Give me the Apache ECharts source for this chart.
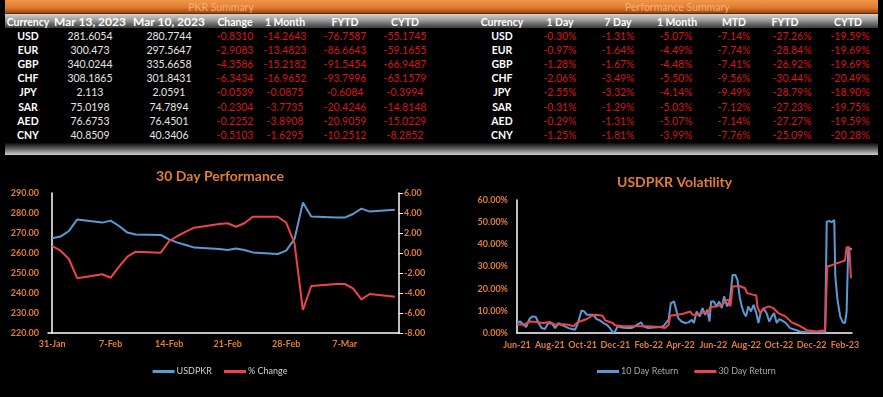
<!DOCTYPE html>
<html>
<head>
<meta charset="utf-8">
<script src="https://cdn.jsdelivr.net/npm/echarts@6/dist/echarts.min.js"></script>
<style>
  html, body { margin: 0; padding: 0; background: #000; }
  #page { position: relative; width: 883px; height: 397px; background: #000; overflow: hidden; font-family: Lato, "Open Sans", sans-serif; }
  .bar-top { position: absolute; left: 5px; top: 0; width: 873px; height: 14px;
    background: linear-gradient(to bottom, #f0974c 0%, #e07a2c 55%, #a04c12 90%, #3a1a05 100%); }
  .bar-head { position: absolute; left: 5px; top: 14px; width: 873px; height: 14px;
    background: linear-gradient(to bottom, #d2d2d2 0%, #9a9a9a 45%, #5a5a5a 80%, #3a3a3a 100%); }
  .bar-foot { position: absolute; left: 5px; top: 143px; width: 873px; height: 12px;
    background: linear-gradient(to bottom, #0a0a0a 0%, #5a5a5a 45%, #d0d0d0 100%); }
  .cell { position: absolute; width: 100px; height: 14px; line-height: 14px; text-align: center; white-space: nowrap;
    font-family: Lato, sans-serif; font-size: 10.5px; }
  .cap { color: #f6b07a; }
  .hd { color: #fff; font-weight: bold; }
  .hd-big { color: #fff; font-weight: bold; font-size: 12px; }
  .cur { color: #fff; font-weight: bold; }
  .num { color: #e6e6e6; }
  .neg { color: #d81414; }
  #perf { position: absolute; left: 0; top: 155px; width: 440px; height: 242px; }
  #vol { position: absolute; left: 440px; top: 155px; width: 443px; height: 242px; }
</style>
</head>
<body>
<div id="page">
  <div class="bar-top"></div>
  <div class="bar-head"></div>
  <div class="bar-foot"></div>
  <div id="tables"></div>
  <div id="perf"></div>
  <div id="vol"></div>
</div>
<script>
// ---- PKR Summary table ----
var currencies = ['USD', 'EUR', 'GBP', 'CHF', 'JPY', 'SAR', 'AED', 'CNY'];
var pkrHeaders = ['Currency', 'Mar 13, 2023', 'Mar 10, 2023', 'Change', '1 Month', 'FYTD', 'CYTD'];
var rateMar13 = ['281.6054', '300.473', '340.0244', '308.1865', '2.113', '75.0198', '76.6753', '40.8509'];
var rateMar10 = ['280.7744', '297.5647', '335.6658', '301.8431', '2.0591', '74.7894', '76.4501', '40.3406'];
var pkrChange = ['-0.8310', '-2.9083', '-4.3586', '-6.3434', '-0.0539', '-0.2304', '-0.2252', '-0.5103'];
var pkr1Month = ['-14.2643', '-13.4823', '-15.2182', '-16.9652', '-0.0875', '-3.7735', '-3.8908', '-1.6295'];
var pkrFytd = ['-76.7587', '-86.6643', '-91.5454', '-93.7996', '-0.6084', '-20.4246', '-20.9059', '-10.2512'];
var pkrCytd = ['-55.1745', '-59.1655', '-66.9487', '-63.1579', '-0.3994', '-14.8148', '-15.0229', '-8.2852'];

// ---- Performance Summary table ----
var perfHeaders = ['Currency', '1 Day', '7 Day', '1 Month', 'MTD', 'FYTD', 'CYTD'];
var perf1Day = ['-0.30%', '-0.97%', '-1.28%', '-2.06%', '-2.55%', '-0.31%', '-0.29%', '-1.25%'];
var perf7Day = ['-1.31%', '-1.64%', '-1.67%', '-3.49%', '-3.32%', '-1.29%', '-1.31%', '-1.81%'];
var perf1Month = ['-5.07%', '-4.49%', '-4.48%', '-5.50%', '-4.14%', '-5.03%', '-5.07%', '-3.99%'];
var perfMtd = ['-7.14%', '-7.74%', '-7.41%', '-9.56%', '-9.49%', '-7.12%', '-7.14%', '-7.76%'];
var perfFytd = ['-27.26%', '-28.84%', '-26.92%', '-30.44%', '-28.79%', '-27.23%', '-27.27%', '-25.09%'];
var perfCytd = ['-19.59%', '-19.69%', '-19.69%', '-20.49%', '-18.90%', '-19.75%', '-19.59%', '-20.28%'];

// ---- 30 Day Performance ----
var perfDates = ['2023-01-31', '2023-02-01', '2023-02-02', '2023-02-03', '2023-02-06', '2023-02-07', '2023-02-08',
  '2023-02-09', '2023-02-10', '2023-02-13', '2023-02-14', '2023-02-15', '2023-02-16', '2023-02-17', '2023-02-20',
  '2023-02-21', '2023-02-22', '2023-02-23', '2023-02-24', '2023-02-27', '2023-02-28', '2023-03-01', '2023-03-02',
  '2023-03-03', '2023-03-06', '2023-03-07', '2023-03-08', '2023-03-09', '2023-03-10', '2023-03-13'];
var usdpkr = [267.4, 268.2, 271.0, 276.8, 275.2, 276.2, 273.5, 270.2, 269.3, 269.0, 266.8, 265.2, 264.0, 262.7, 262.0,
  261.5, 262.2, 261.5, 260.3, 259.5, 261.2, 267.0, 285.2, 278.2, 277.7, 277.7, 279.5, 282.2, 280.7, 281.6];
var pctChange = [0.7, 0.23, -0.6, -2.53, -2.13, -2.47, -1.37, -0.37, 0.13, 0.03, 1.2, 1.7, 2.13, 2.53, 2.9,
  2.97, 2.63, 2.97, 3.63, 3.63, 3.03, 0.97, -5.7, -3.3, -3.1, -3.1, -3.53, -4.63, -4.1, -4.37];
var perfTickDates = ['2023-01-31', '2023-02-07', '2023-02-14', '2023-02-21', '2023-02-28', '2023-03-07'];
var perfTickLabels = ['31-Jan', '7-Feb', '14-Feb', '21-Feb', '28-Feb', '7-Mar'];

// ---- USDPKR Volatility (days counted from 1 Jun 2021, values in %) ----
var volDay10 = [0, 6, 12, 17, 23, 29, 35, 40, 46, 52, 58, 65, 71, 77, 83, 89, 96, 102, 108, 112, 117, 120, 125, 130,
  136, 142, 148, 154, 161, 167, 173, 178, 182, 187, 195, 204, 213, 223, 231, 235, 244, 254, 266, 272, 282, 286, 292,
  296, 300, 306, 313, 319, 325, 329, 334, 340, 345, 350, 354, 358, 361, 366, 371, 376, 381, 385, 391, 396, 401, 406,
  410, 414, 418, 422, 426, 430, 435, 440, 445, 449, 453, 458, 464, 469, 474, 478, 483, 488, 494, 500, 508, 517, 526,
  539, 557, 573, 576, 581, 585, 590, 592, 596, 601, 606, 610, 613, 616, 619, 623];
var vol10 = [4.8, 5.2, 3.7, 2.7, 6.3, 7.5, 7.2, 4.5, 2.2, 1.8, 4.5, 4.2, 2.2, 4.5, 3.7, 3.0, 2.2, 1.8, 1.5, 3.7, 7.5,
  10.2, 9.7, 8.2, 8.2, 8.2, 6.3, 5.7, 4.5, 3.7, 2.2, 0.3, 0.5, 3.0, 2.5, 2.2, 2.2, 3.7, 4.8, 3.0, 2.2, 2.5, 2.7, 3.0,
  6.0, 13.5, 14.2, 10.5, 6.7, 5.2, 4.5, 4.8, 6.0, 4.5, 9.7, 7.5, 11.2, 8.2, 10.5, 5.2, 14.2, 14.2, 12.0, 14.2, 11.2,
  16.5, 12.0, 15.0, 26.2, 26.2, 24.0, 16.5, 12.0, 9.0, 7.5, 12.0, 9.7, 12.7, 9.0, 4.5, 9.0, 11.2, 9.0, 5.2, 7.5, 9.0,
  4.5, 6.3, 5.5, 4.5, 2.2, 1.5, 0.7, 0.3, 0.3, 0.3, 50.2, 50.5, 50.0, 51.0, 25.5, 15.0, 7.5, 4.8, 4.5, 9.7, 38.2, 38.2,
  37.8];
var volDay30 = [0, 12, 24, 37, 49, 61, 71, 86, 96, 105, 111, 117, 120, 130, 139, 148, 159, 164, 170, 178, 182, 198,
  213, 216, 229, 244, 266, 275, 282, 285, 297, 309, 322, 327, 334, 347, 356, 359, 371, 381, 385, 389, 393, 397, 401,
  414, 424, 428, 440, 445, 447, 452, 458, 468, 477, 486, 499, 511, 523, 533, 539, 557, 573, 577, 582, 595, 604, 610,
  613, 618, 621];
var vol30 = [4.0, 3.7, 5.2, 5.0, 4.5, 5.0, 3.7, 4.0, 3.7, 3.0, 4.5, 5.2, 6.0, 6.3, 7.8, 8.2, 7.8, 5.7, 5.2, 4.5, 3.5,
  3.0, 3.0, 2.2, 3.0, 3.0, 2.7, 2.2, 3.7, 7.8, 8.2, 8.7, 9.7, 8.2, 8.2, 9.3, 9.0, 11.7, 12.0, 12.7, 13.5, 14.7, 15.0,
  12.0, 21.0, 21.2, 20.2, 18.0, 17.2, 17.0, 12.0, 9.0, 11.0, 12.0, 11.2, 9.0, 7.5, 4.8, 3.5, 2.2, 1.2, 0.7, 1.2, 30.0,
  30.3, 31.5, 32.2, 32.7, 38.7, 38.7, 24.7];
var volTickDates = ['2021-06-01', '2021-08-01', '2021-10-01', '2021-12-01', '2022-02-01', '2022-04-01', '2022-06-01',
  '2022-08-01', '2022-10-01', '2022-12-01', '2023-02-01'];
var volTickLabels = ['Jun-21', 'Aug-21', 'Oct-21', 'Dec-21', 'Feb-22', 'Apr-22', 'Jun-22', 'Aug-22', 'Oct-22', 'Dec-22', 'Feb-23'];

function dayOf(s, base) {
  return Math.round((Date.parse(s) - Date.parse(base)) / 864e5);
}

// tables
var tables = document.getElementById('tables');
function cell(text, cls, cx, cy) {
  var d = document.createElement('div');
  d.className = 'cell ' + cls;
  d.style.left = (cx - 50) + 'px';
  d.style.top = (cy - 7) + 'px';
  d.textContent = text;
  tables.appendChild(d);
}
cell('PKR Summary', 'cap', 221, 7);
cell('Performance Summary', 'cap', 675, 7);

var pkrHeadX = [28, 90, 169, 235, 285, 345, 405];
var perfHeadX = [502, 560, 618, 677, 734, 785, 848];
var perfValX = [502, 560, 618, 676, 734, 792, 850];
pkrHeaders.forEach(function (h, i) { cell(h, (i == 1 || i == 2) ? 'hd-big' : 'hd', pkrHeadX[i], 21.5); });
perfHeaders.forEach(function (h, i) { cell(h, 'hd', perfHeadX[i], 21.5); });

var pkrCols = [rateMar13, rateMar10, pkrChange, pkr1Month, pkrFytd, pkrCytd];
var perfCols = [perf1Day, perf7Day, perf1Month, perfMtd, perfFytd, perfCytd];
for (var r = 0; r < currencies.length; r++) {
  var y = 36 + r * 14.1;
  cell(currencies[r], 'cur', pkrHeadX[0], y);
  cell(currencies[r], 'cur', perfValX[0], y);
  for (var c = 0; c < pkrCols.length; c++) {
    cell(pkrCols[c][r], c < 2 ? 'num' : 'neg', pkrHeadX[c + 1], y);
  }
  for (var c = 0; c < perfCols.length; c++) {
    cell(perfCols[c][r], 'neg', perfValX[c + 1], y);
  }
}

var orange = '#e27d34';
var labelFont = { color: orange, fontSize: 9, fontWeight: 'bold', fontFamily: 'Lato' };

// 30 Day Performance
var perfStart = perfDates[0];
var perfX = perfDates.map(function (d) { return dayOf(d, perfStart); });
var perfTickX = perfTickDates.map(function (d) { return dayOf(d, perfStart); });

var perfChart = echarts.init(document.getElementById('perf'));
perfChart.setOption({
  animation: false,
  backgroundColor: '#000',
  title: {
    text: '30 Day Performance',
    left: 'center',
    top: 9,
    textStyle: { color: orange, fontSize: 14, fontWeight: 'bold', fontFamily: 'Lato' }
  },
  legend: {
    top: 207,
    left: 'center',
    icon: 'rect',
    itemWidth: 22,
    itemHeight: 3,
    itemGap: 12,
    textStyle: { color: '#d0d0d0', fontSize: 9, fontFamily: 'Lato', padding: [0, 0, 0, -3] },
    data: ['USDPKR', '% Change']
  },
  grid: { left: 48, right: 41, top: 38, bottom: 64 },
  xAxis: {
    type: 'value',
    min: -0.5,
    max: 41.5,
    axisLine: { show: true, onZero: false, lineStyle: { color: '#fff', width: 1.5 } },
    axisTick: { show: false },
    splitLine: { show: false },
    axisLabel: Object.assign({
      margin: 7,
      customValues: perfTickX,
      formatter: function (v) { return perfTickLabels[perfTickX.indexOf(v)]; }
    }, labelFont)
  },
  yAxis: [{
    type: 'value',
    min: 220,
    max: 290,
    interval: 10,
    axisLine: { show: true, lineStyle: { color: '#fff', width: 1.5 } },
    axisTick: { show: false },
    splitLine: { show: false },
    axisLabel: Object.assign({ margin: 9, formatter: function (v) { return v.toFixed(2); } }, labelFont)
  }, {
    type: 'value',
    position: 'right',
    min: -8,
    max: 6,
    interval: 2,
    axisLine: { show: true, lineStyle: { color: '#fff', width: 1.5 } },
    axisTick: { show: true, length: 4, lineStyle: { color: '#fff' } },
    splitLine: { show: false },
    axisLabel: Object.assign({ margin: 5, formatter: function (v) { return v.toFixed(2); } }, labelFont)
  }],
  series: [{
    name: 'USDPKR',
    type: 'line',
    symbol: 'none',
    yAxisIndex: 0,
    lineStyle: { color: '#5b9bd5', width: 2 },
    itemStyle: { color: '#5b9bd5' },
    data: perfX.map(function (x, i) { return [x, usdpkr[i]]; })
  }, {
    name: '% Change',
    type: 'line',
    symbol: 'none',
    yAxisIndex: 1,
    lineStyle: { color: '#f0434a', width: 2 },
    itemStyle: { color: '#f0434a' },
    data: perfX.map(function (x, i) { return [x, pctChange[i]]; })
  }]
});

// USDPKR Volatility
var volStart = volTickDates[0];
var volTickX = volTickDates.map(function (d) { return dayOf(d, volStart); });

var volChart = echarts.init(document.getElementById('vol'));
volChart.setOption({
  animation: false,
  backgroundColor: '#000',
  title: {
    text: 'USDPKR Volatility',
    left: 172,
    top: 15,
    textStyle: { color: orange, fontSize: 14, fontWeight: 'bold', fontFamily: 'Lato' }
  },
  legend: {
    top: 207,
    left: 152,
    icon: 'rect',
    itemWidth: 22,
    itemHeight: 3,
    itemGap: 16,
    textStyle: { color: '#a6a6a6', fontSize: 9, fontFamily: 'Lato', padding: [0, 0, 0, -3] },
    data: ['10 Day Return', '30 Day Return']
  },
  grid: { left: 77, right: 31, top: 45, bottom: 64 },
  xAxis: {
    type: 'value',
    min: 0,
    max: 623,
    axisLine: { show: true, onZero: false, lineStyle: { color: '#fff', width: 1.5 } },
    axisTick: { show: false },
    splitLine: { show: false },
    axisLabel: Object.assign({
      margin: 8,
      customValues: volTickX,
      formatter: function (v) { return volTickLabels[volTickX.indexOf(v)]; }
    }, labelFont)
  },
  yAxis: {
    type: 'value',
    min: 0,
    max: 60,
    interval: 10,
    axisLine: { show: true, lineStyle: { color: '#fff', width: 1.5 } },
    axisTick: { show: false },
    splitLine: { show: false },
    axisLabel: Object.assign({ margin: 9, formatter: function (v) { return v.toFixed(2) + '%'; } }, labelFont)
  },
  series: [{
    name: '10 Day Return',
    type: 'line',
    symbol: 'none',
    lineStyle: { color: '#5b9bd5', width: 2 },
    itemStyle: { color: '#5b9bd5' },
    data: volDay10.map(function (x, i) { return [x, vol10[i]]; })
  }, {
    name: '30 Day Return',
    type: 'line',
    symbol: 'none',
    lineStyle: { color: '#f0434a', width: 2 },
    itemStyle: { color: '#f0434a' },
    data: volDay30.map(function (x, i) { return [x, vol30[i]]; })
  }]
});
</script>
</body>
</html>
